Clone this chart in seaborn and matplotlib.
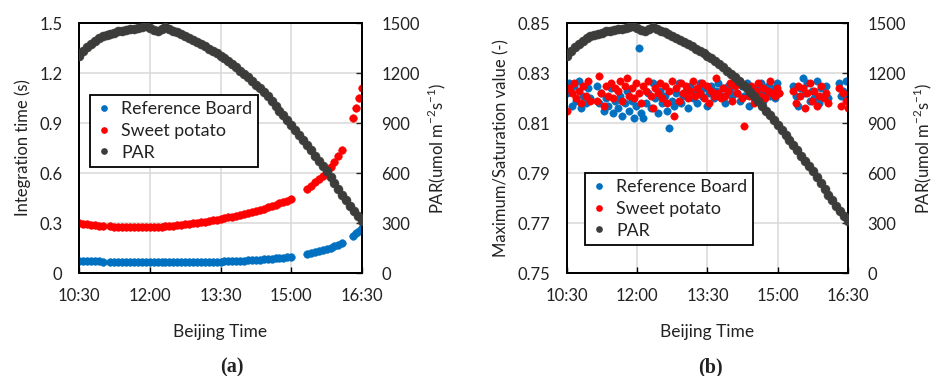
import numpy as np
import pandas as pd
import matplotlib
matplotlib.use("Agg")
import matplotlib.pyplot as plt
from matplotlib.lines import Line2D
import seaborn as sns

# ---------------- data ----------------
time_ticks = [630, 720, 810, 900, 990]          # minutes after midnight
time_labels = ["10:30", "12:00", "13:30", "15:00", "16:30"]

# PAR, sampled every 5 min from 10:30 to 16:30 (umol m-2 s-1)
par_minutes = np.arange(630, 991, 5)
par_values = [
    1305, 1330, 1355, 1375, 1395, 1410, 1420, 1428, 1435, 1442,
    1450, 1455, 1460, 1463, 1466, 1470, 1475, 1480, 1470, 1460,
    1455, 1465, 1475, 1462, 1452, 1445, 1435, 1425, 1412, 1400,
    1385, 1372, 1360, 1345, 1330, 1318, 1305, 1290, 1272, 1255,
    1235, 1215, 1195, 1175, 1155, 1130, 1108, 1085, 1060, 1030,
    1000, 975, 950, 920, 890, 860, 830, 800, 770, 740,
    705, 675, 645, 610, 575, 540, 505, 470, 440, 405,
    375, 345, 315,
]

# Integration time (s): four acquisition runs
int_minutes = np.concatenate([
    np.arange(630, 661, 5),
    np.arange(670, 901, 5),
    np.arange(920, 966, 5),
    np.arange(978, 991, 4),
])
int_board = [
    0.075, 0.073, 0.072, 0.071, 0.070, 0.070, 0.069,
    0.068, 0.067, 0.067, 0.066, 0.066, 0.066, 0.065, 0.065, 0.065, 0.065,
    0.065, 0.065, 0.065, 0.065, 0.065, 0.065, 0.065, 0.066, 0.066, 0.066, 0.066, 0.066,
    0.067, 0.067, 0.067, 0.068, 0.068, 0.069, 0.069, 0.070, 0.071, 0.072, 0.073, 0.074,
    0.075, 0.076, 0.077, 0.078, 0.080, 0.082, 0.084, 0.086, 0.088, 0.090, 0.093, 0.096,
    0.099,
    0.113, 0.118, 0.124, 0.130, 0.137, 0.144, 0.152, 0.160, 0.170, 0.182,
    0.225, 0.240, 0.255, 0.270,
]
int_potato = [
    0.300, 0.297, 0.293, 0.290, 0.287, 0.285, 0.284,
    0.280, 0.279, 0.278, 0.277, 0.277, 0.276, 0.276, 0.275, 0.275, 0.275,
    0.275, 0.276, 0.277, 0.278, 0.280, 0.282, 0.284, 0.286, 0.289, 0.292, 0.295, 0.298,
    0.301, 0.304, 0.308, 0.312, 0.316, 0.320, 0.324, 0.329, 0.334, 0.339, 0.344, 0.350,
    0.356, 0.362, 0.368, 0.374, 0.380, 0.387, 0.394, 0.402, 0.410, 0.418, 0.426, 0.435,
    0.445,
    0.507, 0.525, 0.545, 0.565, 0.585, 0.610, 0.635, 0.665, 0.700, 0.740,
    0.930, 0.990, 1.050, 1.110,
]

# Maximum / saturation value (-), sampled every 3 min within each run
sat_minutes = np.concatenate([
    np.arange(630, 661, 3),
    np.arange(668, 903, 3),
    np.arange(920, 966, 3),
    np.arange(978, 991, 3),
])
sat_board = [
    0.822, 0.826, 0.817, 0.825, 0.819, 0.827, 0.816, 0.821, 0.818, 0.824, 0.820,
    0.825, 0.818, 0.822, 0.815, 0.820, 0.817, 0.824, 0.814, 0.819, 0.816,
    0.821, 0.813, 0.818, 0.823, 0.815, 0.819, 0.812, 0.817, 0.840, 0.814,
    0.812, 0.818, 0.822, 0.816, 0.826, 0.820, 0.814, 0.823, 0.818, 0.821,
    0.815, 0.808, 0.819, 0.817, 0.822, 0.826, 0.818, 0.821, 0.823, 0.816,
    0.825, 0.820, 0.822, 0.818, 0.826, 0.821, 0.824, 0.817, 0.822, 0.825,
    0.820, 0.823, 0.826, 0.821, 0.824, 0.818, 0.825, 0.823, 0.821, 0.827,
    0.822, 0.819, 0.825, 0.821, 0.826, 0.817, 0.823, 0.820, 0.824, 0.822,
    0.826, 0.819, 0.823, 0.825, 0.821, 0.824, 0.820, 0.826, 0.822,
    0.825, 0.821, 0.817, 0.824, 0.828, 0.822, 0.826, 0.819,
    0.823, 0.820, 0.827, 0.818, 0.824, 0.821, 0.825, 0.820,
    0.826, 0.821, 0.823, 0.827, 0.820,
]
sat_potato = [
    0.815, 0.824, 0.822, 0.826, 0.820, 0.823, 0.818, 0.825, 0.821, 0.827, 0.819,
    0.819, 0.829, 0.822, 0.817, 0.825, 0.821, 0.826, 0.820, 0.824, 0.823,
    0.827, 0.819, 0.825, 0.828, 0.821, 0.824, 0.820, 0.826, 0.822, 0.818,
    0.825, 0.823, 0.827, 0.821, 0.816, 0.824, 0.822, 0.826, 0.820, 0.825,
    0.818, 0.823, 0.827, 0.813, 0.824, 0.819, 0.826, 0.822, 0.825, 0.820,
    0.823, 0.827, 0.821, 0.824, 0.822, 0.826, 0.820, 0.825, 0.818, 0.823,
    0.821, 0.828, 0.822, 0.820, 0.824, 0.821, 0.823, 0.826, 0.819, 0.825,
    0.822, 0.827, 0.820, 0.809, 0.824, 0.821, 0.825, 0.818, 0.823, 0.826,
    0.821, 0.824, 0.820, 0.823, 0.827, 0.822, 0.821, 0.824, 0.822,
    0.823, 0.818, 0.825, 0.821, 0.824, 0.816, 0.822, 0.826,
    0.819, 0.823, 0.817, 0.821, 0.825, 0.820, 0.822, 0.818,
    0.824, 0.817, 0.822, 0.819, 0.816,
]

# ---------------- style ----------------
sns.set_style("white")
plt.rcParams["font.family"] = ["Lato", "DejaVu Sans"]
plt.rcParams["mathtext.fontset"] = "custom"
plt.rcParams["mathtext.rm"] = "Lato"

BLUE = "#0070C0"
RED = "#FF0000"
DARK = "#3C3C3A"
GRID = "#D9D9D9"
TXT = "#222222"
FS = 12

fig = plt.figure(figsize=(9.33, 3.76), dpi=100)
ax_a = fig.add_axes([79 / 933, 1 - 273 / 376, 283 / 933, 250 / 376])
ax_b = fig.add_axes([567 / 933, 1 - 273 / 376, 281 / 933, 250 / 376])

par_df = pd.DataFrame({"t": par_minutes / 60, "PAR": par_values})
int_df = pd.DataFrame({"t": int_minutes / 60, "board": int_board, "potato": int_potato})
sat_df = pd.DataFrame({"t": sat_minutes / 60, "board": sat_board, "potato": sat_potato})


def panel(ax, df, size, ylim, yticks, ylabels, ylabel, legend_anchor):
    ax.set_axisbelow(True)
    for col, colour in (("board", BLUE), ("potato", RED)):
        sns.scatterplot(data=df, x="t", y=col, ax=ax, color=colour, s=size,
                        edgecolor=colour, linewidth=0.4, legend=False, zorder=3)
    ax.set_xlim(10.5, 16.5)
    ax.set_ylim(*ylim)
    ax.set_xticks(np.array(time_ticks) / 60)
    ax.set_xticklabels(time_labels)
    ax.set_yticks(yticks)
    ax.set_yticklabels(ylabels)
    ax.grid(True, color=GRID, linewidth=1.1)
    ax.tick_params(axis="x", direction="in", length=4, width=1, pad=11,
                   labelsize=FS, colors="black", labelcolor=TXT,
                   top=False, bottom=True)
    ax.tick_params(axis="y", length=0, pad=12, labelsize=FS, labelcolor=TXT)
    ax.set_xlabel("Beijing Time", fontsize=FS + 0.5, labelpad=14, color=TXT)
    ax.set_ylabel(ylabel, fontsize=FS, labelpad=6, color=TXT)
    for sp in ax.spines.values():
        sp.set_color("black")
        sp.set_linewidth(1.3)

    # PAR on the secondary axis
    tw = ax.twinx()
    sns.scatterplot(data=par_df, x="t", y="PAR", ax=tw, color=DARK, s=42,
                    edgecolor=DARK, linewidth=0.4, legend=False, zorder=3)
    tw.set_ylim(0, 1500)
    tw.set_yticks([0, 300, 600, 900, 1200, 1500])
    tw.set_yticklabels(["0", "300", "600", "900", "1200", "1500"])
    tw.tick_params(axis="y", direction="in", length=4, width=1, pad=14,
                   labelsize=FS, labelcolor=TXT, right=True)
    tw.set_ylabel("PAR(umol m$^{-2}$s$^{-1}$)", fontsize=FS,
                  rotation=90, labelpad=4, color=TXT)
    tw.set_xlim(10.5, 16.5)
    for sp in tw.spines.values():
        sp.set_color("black")
        sp.set_linewidth(1.3)

    handles = [
        Line2D([], [], marker="o", linestyle="none", color=c, markersize=3.8)
        for c in (BLUE, RED, DARK)
    ]
    leg = tw.legend(handles, ["Reference Board", "Sweet potato", "PAR"],
                    loc="upper left", bbox_to_anchor=legend_anchor,
                    borderaxespad=0, frameon=True, fancybox=False,
                    fontsize=FS + 0.8, handlelength=0.9, handletextpad=0.5,
                    labelspacing=0.32, borderpad=0.35)
    for txt in leg.get_texts():
        txt.set_color(TXT)
    leg.get_frame().set_edgecolor("black")
    leg.get_frame().set_linewidth(1.3)
    leg.get_frame().set_alpha(1)
    return tw


panel(ax_a, int_df, 30, (0, 1.5), [0, 0.3, 0.6, 0.9, 1.2, 1.5],
      ["0", "0.3", "0.6", "0.9", "1.2", "1.5"], "Integration time (s)",
      (0.039, 0.712))
panel(ax_b, sat_df, 28, (0.75, 0.85), [0.75, 0.77, 0.79, 0.81, 0.83, 0.85],
      ["0.75", "0.77", "0.79", "0.81", "0.83", "0.85"],
      "Maximum/Saturation value (-)", (0.064, 0.40))

fig.text(232 / 933, 1 - 367 / 376, "(a)", ha="center", va="center",
         fontsize=14.5, fontweight="bold", family="Liberation Serif", color=TXT)
fig.text(710 / 933, 1 - 367 / 376, "(b)", ha="center", va="center",
         fontsize=14.5, fontweight="bold", family="Liberation Serif", color=TXT)

fig.savefig("out.png", dpi=100, facecolor="white")
